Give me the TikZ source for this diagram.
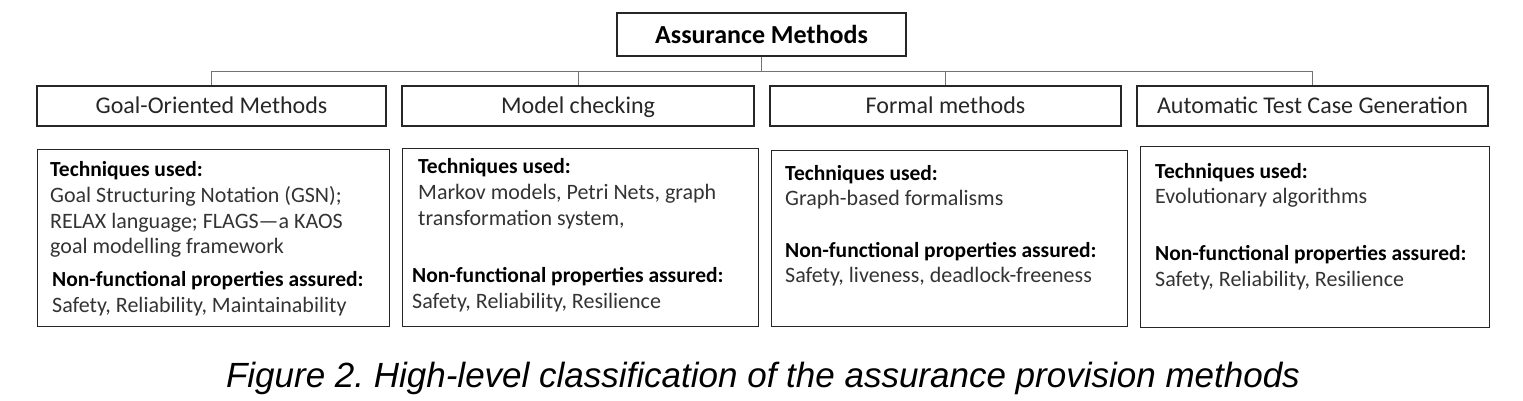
\documentclass[tikz,border=0pt]{standalone}
\usepackage{fontspec}
\setmainfont{Carlito}
\newfontfamily\capfont{Liberation Sans}
\begin{document}
\begin{tikzpicture}[x=1pt,y=-1pt,
  box/.style={draw=black!85,line width=1.4pt,inner sep=0pt},
  cat/.style={box,minimum height=40pt,text height=18pt,text depth=2pt,font=\fontsize{24}{28}\selectfont,text=black!85},
  detail/.style={draw=black!85,line width=1.4pt,inner sep=0pt,anchor=north west},
  txt/.style={anchor=base west,inner sep=0pt,font=\fontsize{22}{26}\selectfont,text=black!80},
  hd/.style={txt,font=\fontsize{21.5}{26}\selectfont\bfseries,text=black},
  conn/.style={draw=black!55,line width=1pt}]
\useasboundingbox (0,0) rectangle (1523,401);
\node[box,minimum width=289pt,minimum height=43pt,font=\fontsize{26}{30}\selectfont\bfseries] (top) at (761.5,34.5) {Assurance Methods};
\node[cat,minimum width=349pt] (c1) at (211.5,106) {Goal-Oriented Methods};
\node[cat,minimum width=352pt] (c2) at (578,106) {Model checking};
\node[cat,minimum width=351pt] (c3) at (945.5,106) {Formal methods};
\node[cat,minimum width=351pt] (c4) at (1312.5,106) {Automatic Test Case Generation};
\coordinate (bus) at (761.5,72);
\draw[conn] (top.south) -- (bus);
\draw[conn] (bus) -| (c1.north);
\draw[conn] (bus) -| (c2.north);
\draw[conn] (bus) -| (c3.north);
\draw[conn] (bus) -| (c4.north);
% detail boxes
\node[detail,minimum width=352pt,minimum height=177pt] (d1) at (37,149) {};
\node[detail,minimum width=356pt,minimum height=178pt] (d2) at (402,148) {};
\node[detail,minimum width=356pt,minimum height=176pt] (d3) at (771,150) {};
\node[detail,minimum width=349pt,minimum height=181pt] (d4) at (1140,146) {};
% box 1
\node[hd] (a1) at (50,176) {Techniques used:};
\node[txt] (a2) at (50,202) {Goal Structuring Notation (GSN);};
\node[txt] (a3) at (50,228) {RELAX language; FLAGS---a KAOS};
\node[txt] (a4) at (50,253) {goal modelling framework};
\node[hd] (a5) at (52,286) {Non-functional properties assured:};
\node[txt] (a6) at (52,312) {Safety, Reliability, Maintainability};
% box 2
\node[hd] (b1) at (418,173) {Techniques used:};
\node[txt] (b2) at (418,199) {Markov models, Petri Nets, graph};
\node[txt] (b3) at (418,225) {transformation system,};
\node[hd] (b4) at (412,282) {Non-functional properties assured:};
\node[txt] (b5) at (412,308) {Safety, Reliability, Resilience};
% box 3
\node[hd] (e1) at (785,180) {Techniques used:};
\node[txt] (e2) at (785,205) {Graph-based formalisms};
\node[hd] (e3) at (785,257) {Non-functional properties assured:};
\node[txt] (e4) at (785,282) {Safety, liveness, deadlock-freeness};
% box 4
\node[hd] (f1) at (1155,178) {Techniques used:};
\node[txt] (f2) at (1155,203) {Evolutionary algorithms};
\node[hd] (f3) at (1155,260) {Non-functional properties assured:};
\node[txt] (f4) at (1155,286) {Safety, Reliability, Resilience};
% caption
\node[inner sep=0pt,font=\capfont\itshape\fontsize{35}{40}\selectfont] (cap) at (763,378) {Figure 2.\ High-level classification of the assurance provision methods};
\end{tikzpicture}
\end{document}
